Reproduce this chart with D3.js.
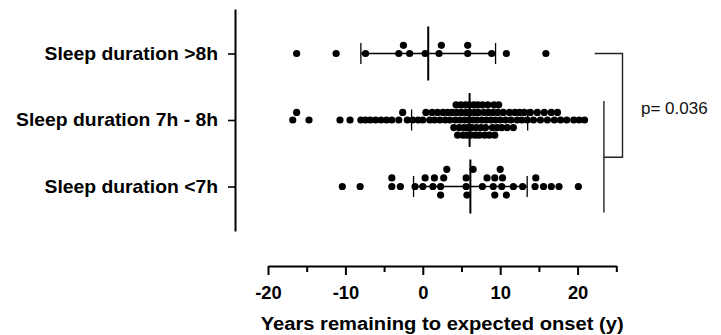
<!DOCTYPE html>
<html>
<head>
<meta charset="utf-8">
<script src="https://cdn.jsdelivr.net/npm/d3@7"></script>
<style>
  body { margin: 0; background: #fff; }
  svg { display: block; }
</style>
</head>
<body>
<div id="chart"></div>
<script>
// data
const categories = ["Sleep duration >8h", "Sleep duration 7h - 8h", "Sleep duration <7h"];

const over8h = [-16.3, -11.2, -7.4, -3.1, -2.5, -1.7, 0.3, 2.1, 2.4, 5.8, 5.8, 8.9, 10.8, 15.9];

const from7to8h = [
  -16.8, -16.3, -14.7, -10.7, -9.4, -8.0, -7.4, -6.8, -6.1, -5.4, -4.7, -4.0, -3.1, -2.6, -2.0, -1.3, -0.6,
  0.0, 0.4, 0.9, 1.2, 1.5, 1.9, 2.2, 2.6, 2.9, 3.2, 3.5, 3.8,
  4.0, 4.2, 4.4, 4.5, 4.7, 4.9, 5.0, 5.2, 5.4, 5.5, 5.7, 5.9, 6.0, 6.1, 6.3, 6.5, 6.6, 6.8, 7.0, 7.1, 7.3, 7.5, 7.7, 7.9,
  4.3, 4.8, 5.3, 5.8, 6.2, 6.7, 7.2, 7.6, 8.1, 8.5, 9.1, 9.3, 9.7, 5.6, 6.9,
  8.0, 8.2, 8.4, 8.6, 8.8, 9.0, 9.2, 9.4, 9.6, 9.8, 10.0, 10.2, 10.4, 10.7, 10.9, 11.2, 11.4, 11.7, 11.9,
  12.2, 12.5, 12.8, 13.1, 13.5, 13.9, 14.3, 14.8, 15.2, 15.7,
  16.1, 16.6, 17.0, 17.4, 17.8, 18.6, 19.5, 20.2, 20.9
];

const under7h = [
  -10.4, -8.1, -4.0, -4.0, -2.9, -1.0, 0.0, 0.3, 1.3, 1.5, 2.3, 2.3, 2.7, 3.1,
  5.6, 5.6, 5.7, 6.5, 7.7, 8.3, 9.1, 9.3, 9.3, 10.0, 10.2, 10.3, 10.8,
  11.7, 12.9, 14.5, 14.6, 15.6, 16.6, 17.6, 20.1
];

const seriesValues = [over8h, from7to8h, under7h];

const xDomain = [-20, 25];
const xMajorTicks = [-20, -10, 0, 10, 20];
const xMinorTicks = [-15, -5, 5, 15, 25];
const xTitle = "Years remaining to expected onset (y)";
const pText = "p= 0.036";

const width = 721, height = 335;
const font = '"Liberation Sans", Arial, Helvetica, sans-serif';

const svg = d3.select("#chart").append("svg")
  .attr("width", width)
  .attr("height", height);

const x = d3.scaleLinear().domain(xDomain).range([268, 616.3]);
const y = d3.scalePoint().domain(categories).range([9, 231]).padding(0.669);

const dotR = 3.6;
// the crowded middle row packs its dots tighter
const swarmGap = [7, 4.4, 7];
const laneStep = [8.2, 7.6, 8.6];

// stretch text horizontally, the figure's lettering is a bit wider than Arial
function widen(sel, sx) {
  sel.each(function () {
    const w = this.getComputedTextLength();
    d3.select(this).attr("textLength", w * sx).attr("lengthAdjust", "spacingAndGlyphs");
  });
}

// simple lane swarm: sorted by value, first free lane, capped at 5 lanes
function swarm(values, minGap) {
  const lanes = [0, -1, 1, -2, 2];
  const last = new Map();
  return values.slice().sort(d3.ascending).map(v => {
    const px = x(v);
    let lane = lanes.find(l => !last.has(l) || px - last.get(l) >= minGap);
    if (lane === undefined) lane = lanes.reduce((a, b) => (last.get(a) <= last.get(b) ? a : b));
    last.set(lane, px);
    return { v, px, lane };
  });
}

// y axis
const yAxis = svg.append("g")
  .attr("transform", "translate(235,0)")
  .call(d3.axisLeft(y).tickSize(7).tickSizeOuter(0).tickPadding(10));
yAxis.select(".domain").attr("stroke", "#000").attr("stroke-width", 2);
yAxis.selectAll(".tick line").attr("stroke", "#000").attr("stroke-width", 1.6);
yAxis.selectAll("text")
  .attr("fill", "#000")
  .style("font-family", font)
  .style("font-size", "18.5px")
  .style("font-weight", "bold")
  .call(widen, 1.045);

// x axis
const xAxis = svg.append("g")
  .attr("transform", "translate(0,266)")
  .call(d3.axisBottom(x).tickValues(xMajorTicks).tickSize(9).tickSizeOuter(0)
    .tickPadding(11.5).tickFormat(d => String(d)));
xAxis.select(".domain").attr("stroke", "#000").attr("stroke-width", 2);
xAxis.selectAll(".tick line").attr("stroke", "#000").attr("stroke-width", 2);
xAxis.selectAll("text")
  .attr("fill", "#000")
  .style("font-family", font)
  .style("font-size", "17.5px")
  .style("font-weight", "bold")
  .call(widen, 1.05);

const xMinor = svg.append("g")
  .attr("transform", "translate(0,266)")
  .call(d3.axisBottom(x).tickValues(xMinorTicks).tickSize(6).tickFormat(""));
xMinor.select(".domain").remove();
xMinor.selectAll(".tick line").attr("stroke", "#000").attr("stroke-width", 2);

svg.append("text")
  .attr("x", (x.range()[0] + x.range()[1]) / 2)
  .attr("y", 329.5)
  .attr("text-anchor", "middle")
  .attr("fill", "#000")
  .style("font-family", font)
  .style("font-size", "18px")
  .style("font-weight", "bold")
  .text(xTitle)
  .call(widen, 1.12);

// dots and mean +/- SD
const rows = svg.append("g");
categories.forEach((cat, i) => {
  const vals = seriesValues[i];
  const cy = y(cat);
  const g = rows.append("g");

  g.selectAll("circle")
    .data(swarm(vals, swarmGap[i]))
    .join("circle")
    .attr("cx", d => d.px)
    .attr("cy", d => cy + d.lane * laneStep[i])
    .attr("r", dotR)
    .attr("fill", "#000");

  const m = d3.mean(vals);
  const sd = d3.deviation(vals);

  g.append("line")
    .attr("x1", x(m - sd)).attr("x2", x(m + sd))
    .attr("y1", cy).attr("y2", cy)
    .attr("stroke", "#000").attr("stroke-width", 1.3);
  [m - sd, m + sd].forEach(v => {
    g.append("line")
      .attr("x1", x(v)).attr("x2", x(v))
      .attr("y1", cy - 10.5).attr("y2", cy + 10.5)
      .attr("stroke", "#000").attr("stroke-width", 1.3);
  });
  g.append("line")
    .attr("x1", x(m)).attr("x2", x(m))
    .attr("y1", cy - 27).attr("y2", cy + 27)
    .attr("stroke", "#000").attr("stroke-width", 2);
});

// significance brackets
const yTop = y(categories[0]);
const yMid = y(categories[1]);
const yBot = y(categories[2]);
const bx1 = x(22.2), bx2 = x(25.8), bx3 = x(23.4);
const yJoin = (yMid + yBot) / 2 + 4;

svg.append("path")
  .attr("d", `M${bx1},${yTop}H${bx2}V${yJoin}H${bx3}`)
  .attr("fill", "none")
  .attr("stroke", "#222")
  .attr("stroke-width", 1.4);
svg.append("line")
  .attr("x1", bx3).attr("x2", bx3)
  .attr("y1", yMid - 19).attr("y2", yBot + 26)
  .attr("stroke", "#222")
  .attr("stroke-width", 1.4);

svg.append("text")
  .attr("x", 641)
  .attr("y", 114)
  .attr("fill", "#111")
  .style("font-family", font)
  .style("font-size", "17px")
  .text(pText);
</script>
</body>
</html>
